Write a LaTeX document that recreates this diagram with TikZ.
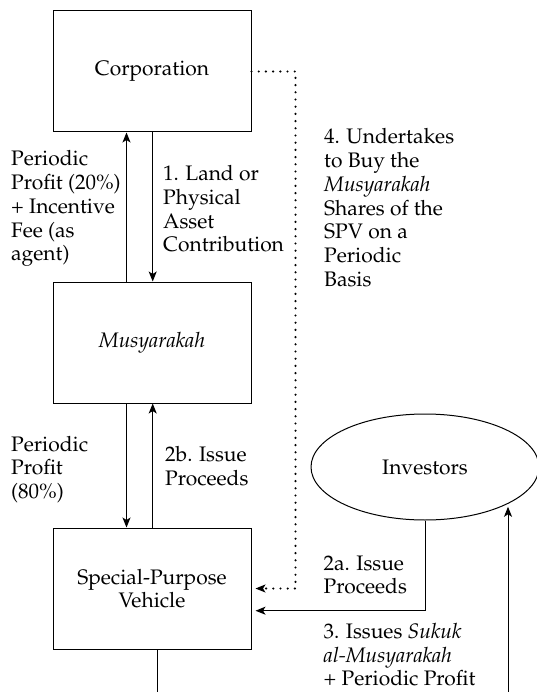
\documentclass[tikz,border=0pt]{standalone}
\usepackage[T1]{fontenc}
\usepackage{mathpazo}
\usetikzlibrary{arrows.meta,shapes.geometric}
\newcommand\lbfont{\fontsize{21}{23.7}\selectfont}
\tikzset{
  box/.style={draw, line width=1pt, minimum width=198pt, minimum height=121pt, inner sep=0pt, font=\lbfont, align=center},
  oval/.style={draw, ellipse, line width=1pt, minimum width=228pt, minimum height=106pt, inner sep=0pt, font=\lbfont},
  arr/.style={line width=1pt, -{Stealth[length=10pt,width=8pt,inset=2.5pt]}},
  conn/.style={line width=1pt},
  dots/.style={line width=2.4pt, line cap=round, dash pattern=on 0pt off 7.2pt},
  lbl/.style={anchor=base west, inner sep=0pt, font=\lbfont}
}
\newcommand\lbtab[1]{\begin{tabular}[t]{@{}l@{}}#1\end{tabular}}
\begin{document}
\begin{tikzpicture}[x=1pt,y=-1pt]
\useasboundingbox (0,0) rectangle (537,692);
% boxes
\node[box] (corp) at (152,71.5) {Corporation};
\node[box] (mus) at (152,342.5) {\textit{Musyarakah}};
\node[box] (spv) at (152,588.5) {Special-Purpose\\Vehicle};
\node[oval] (inv) at (425,467) {Investors};
% helper coordinates
\coordinate (xa) at (126.5,0);
\coordinate (xb) at (152.7,0);
\coordinate (dx) at (295.5,0);
\coordinate (hy) at (0,610.7);
\coordinate (bl) at (157.7,692);
\coordinate (br) at (508,692);
% vertical flows
\draw[arr] (corp.south -| xb) -- (mus.north -| xb);
\draw[arr] (mus.north -| xa) -- (corp.south -| xa);
\draw[arr] (mus.south -| xa) -- (spv.north -| xa);
\draw[arr] (spv.north -| xb) -- (mus.south -| xb);
\draw[conn] (spv.south -| bl) -- (bl);
% dotted undertaking
\draw[dots] (corp.east) -- (corp.east -| dx) -- (spv.east -| dx) -- ([xshift=11pt]spv.east);
\draw[arr] ([xshift=6pt]spv.east) -- ([xshift=4pt]spv.east);
% investors to SPV
\draw[arr] (inv.south) -- (inv.south |- hy) -- ([xshift=4pt]spv.east |- hy);
% bottom to investors
\draw[arr, shorten >=2pt] (br) -- (br |- inv.-25);
% labels
\node[lbl] (l1) at (11,166) {\lbtab{Periodic\\Profit (20\%)\\+ Incentive\\Fee (as\\agent)}};
\node[lbl] (l2) at (163,180.7) {\lbtab{1. Land or\\Physical\\Asset\\Contribution}};
\node[lbl] (l4) at (324,144) {\lbtab{4. Undertakes\\to Buy the\\\textit{Musyarakah}\\Shares of the\\SPV on a\\Periodic\\Basis}};
\node[lbl] (l5) at (11,451) {\lbtab{Periodic\\Profit\\(80\%)}};
\node[lbl] (l6) at (165,461.7) {\lbtab{2b. Issue\\Proceeds}};
\node[lbl] (l7) at (323.5,570) {\lbtab{2a. Issue\\Proceeds}};
\node[lbl] (l8) at (323.5,638.3) {\lbtab{3. Issues \textit{Sukuk}\\\textit{al-Musyarakah}\\+ Periodic Profit}};
\end{tikzpicture}
\end{document}
